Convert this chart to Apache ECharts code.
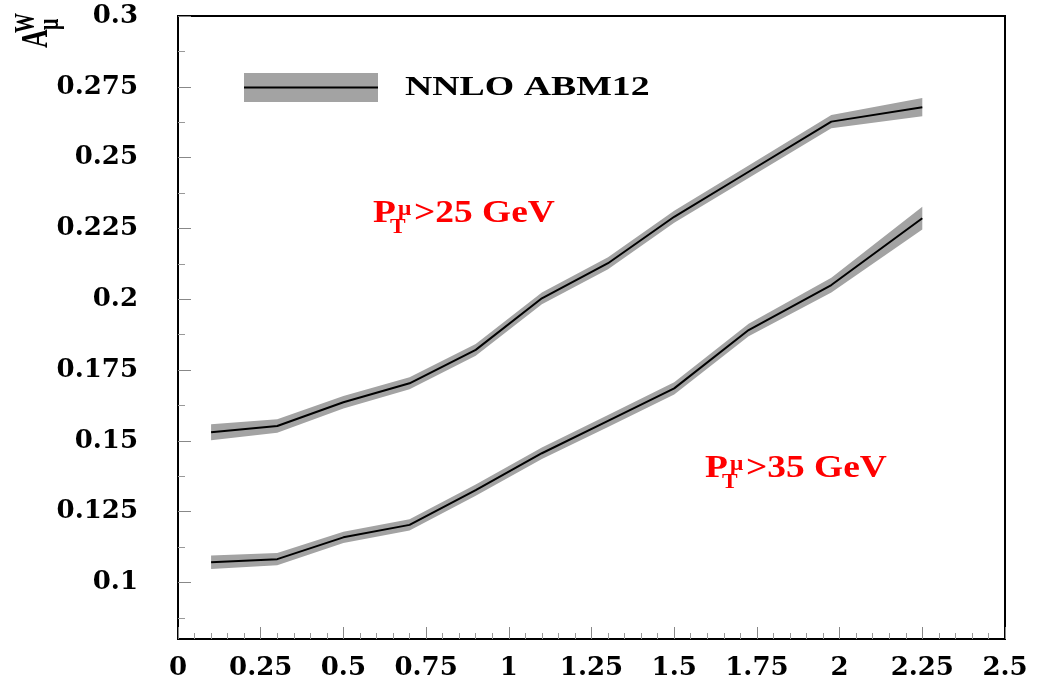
<!DOCTYPE html>
<html><head><meta charset="utf-8">
<script src="https://cdn.jsdelivr.net/npm/echarts@6/dist/echarts.min.js"></script>
<style>html,body{margin:0;padding:0;background:#fff}#c{width:1049px;height:683px}</style>
</head><body><div id="c"></div>
<script>
// |eta| bin centres
const etaCenters = [0.1, 0.3, 0.5, 0.7, 0.9, 1.1, 1.3, 1.5, 1.725, 1.975, 2.25];
// W muon charge asymmetry, pT > 25 GeV
const asym25 = [0.1530, 0.1552, 0.1636, 0.1703, 0.1821, 0.2003, 0.2127, 0.2291, 0.2450, 0.2627, 0.2678];
const err25  = [0.0028, 0.0024, 0.0022, 0.0021, 0.0021, 0.0021, 0.0021, 0.0021, 0.0022, 0.0023, 0.0032];
// W muon charge asymmetry, pT > 35 GeV
const asym35 = [0.1071, 0.1082, 0.1159, 0.1203, 0.1326, 0.1456, 0.1570, 0.1685, 0.1891, 0.2050, 0.2286];
const err35  = [0.0024, 0.0022, 0.0020, 0.0020, 0.0020, 0.0020, 0.0021, 0.0022, 0.0022, 0.0026, 0.0040];
// axis ticks
const yMajorTicks = [0.1, 0.125, 0.15, 0.175, 0.2, 0.225, 0.25, 0.275, 0.3];
const yMinorTicks = [0.0875, 0.1125, 0.1375, 0.1625, 0.1875, 0.2125, 0.2375, 0.2625, 0.2875];

const BAND = '#a3a3a3';
const serif = '"Liberation Serif", "Times New Roman", serif';
const labelFont = { fontFamily: '"DejaVu Serif", serif', fontWeight: 'bold', fontSize: 26, color: '#000' };

function bandSeries(vals, errs) {
  return {
    type: 'custom', silent: true, z: 1, animation: false,
    data: etaCenters.map((x, i) => [x, vals[i], errs[i]]),
    encode: { x: 0, y: 1 },
    renderItem: function (params, api) {
      if (params.dataIndex !== 0) return null;
      const pts = [];
      for (let i = 0; i < etaCenters.length; i++) pts.push(api.coord([etaCenters[i], vals[i] + errs[i]]));
      for (let i = etaCenters.length - 1; i >= 0; i--) pts.push(api.coord([etaCenters[i], vals[i] - errs[i]]));
      return { type: 'polygon', shape: { points: pts }, style: { fill: BAND } };
    }
  };
}
function lineSeries(vals) {
  return {
    type: 'line', z: 2, animation: false, symbol: 'none', silent: true,
    data: etaCenters.map((x, i) => [x, vals[i]]),
    lineStyle: { color: '#000', width: 2 }
  };
}
function ptLabel(x, y, txt) {
  return {
    type: 'group', x: x, y: y, scaleX: 1.17,
    children: [
      { type: 'text', x: 0, y: -10.8, style: { text: 'P', font: 'bold 32px ' + serif, fill: '#ff0000', verticalAlign: 'middle' } },
      { type: 'text', x: 14.5, y: 3.3, style: { text: 'T', font: 'bold 20px ' + serif, fill: '#ff0000', verticalAlign: 'middle' } },
      { type: 'text', x: 21.4, y: -14.8, style: { text: 'μ', font: 'bold 20px ' + serif, fill: '#ff0000', verticalAlign: 'middle' } },
      { type: 'text', x: 35, y: -10.8, style: { text: txt, font: 'bold 32px ' + serif, fill: '#ff0000', verticalAlign: 'middle' } }
    ]
  };
}

const chart = echarts.init(document.getElementById('c'), null, { renderer: 'canvas' });
chart.setOption({
  animation: false,
  backgroundColor: '#fff',
  grid: { left: 178, right: 44, top: 16, bottom: 44, show: true, borderColor: '#000', borderWidth: 2, backgroundColor: 'transparent', containLabel: false, outerBoundsMode: 'none' },
  xAxis: {
    type: 'value', min: 0, max: 2.5, interval: 0.25,
    axisLine: { show: true, onZero: false, lineStyle: { color: '#000', width: 2 } },
    axisTick: { show: true, inside: true, length: 12, lineStyle: { color: '#888', width: 1 } },
    minorTick: { show: true, splitNumber: 5, length: 6, lineStyle: { color: '#999', width: 1 } },
    splitLine: { show: false },
    axisLabel: Object.assign({ margin: 16, showMinLabel: true, showMaxLabel: true }, labelFont)
  },
  yAxis: [{
    type: 'value', min: 0.08, max: 0.3,
    axisLine: { show: true, onZero: false, lineStyle: { color: '#000', width: 2 } },
    axisTick: { show: true, inside: true, length: 13, customValues: yMajorTicks, lineStyle: { color: '#888', width: 1 } },
    splitLine: { show: false },
    axisLabel: Object.assign({ margin: 40, customValues: yMajorTicks }, labelFont)
  }, {
    type: 'value', min: 0.08, max: 0.3, position: 'left',
    axisLine: { show: false },
    axisTick: { show: true, inside: true, length: 7, customValues: yMinorTicks, lineStyle: { color: '#999', width: 1 } },
    splitLine: { show: false },
    axisLabel: { show: false }
  }],
  series: [bandSeries(asym25, err25), lineSeries(asym25), bandSeries(asym35, err35), lineSeries(asym35)],
  graphic: [
    // legend
    { type: 'rect', shape: { x: 244, y: 73, width: 134, height: 29 }, style: { fill: BAND } },
    { type: 'line', shape: { x1: 244, y1: 87.5, x2: 378, y2: 87.5 }, style: { stroke: '#000', lineWidth: 2 } },
    { type: 'text', x: 405, y: 88, scaleX: 1.40, style: { text: 'NNLO ABM12', font: 'bold 27px ' + serif, fill: '#000', verticalAlign: 'middle' } },
    // y axis title A^W_mu (rotated)
    { type: 'group', x: 50, y: 48, scaleX: 1.46, children: [{
      type: 'group', rotation: Math.PI / 2, children: [
        { type: 'text', x: 0, y: -8.7, style: { text: 'A', font: 'bold 26px ' + serif, fill: '#000', verticalAlign: 'middle' } },
        { type: 'text', x: 15, y: -15.8, style: { text: 'W', font: 'bold 20px ' + serif, fill: '#000', verticalAlign: 'middle' } },
        { type: 'text', x: 18, y: 0.5, style: { text: 'μ', font: 'bold 20px ' + serif, fill: '#000', verticalAlign: 'middle' } }
      ]
    }] },
    ptLabel(373, 225, '>25 GeV'),
    ptLabel(705, 480, '>35 GeV')
  ]
});
</script></body></html>
